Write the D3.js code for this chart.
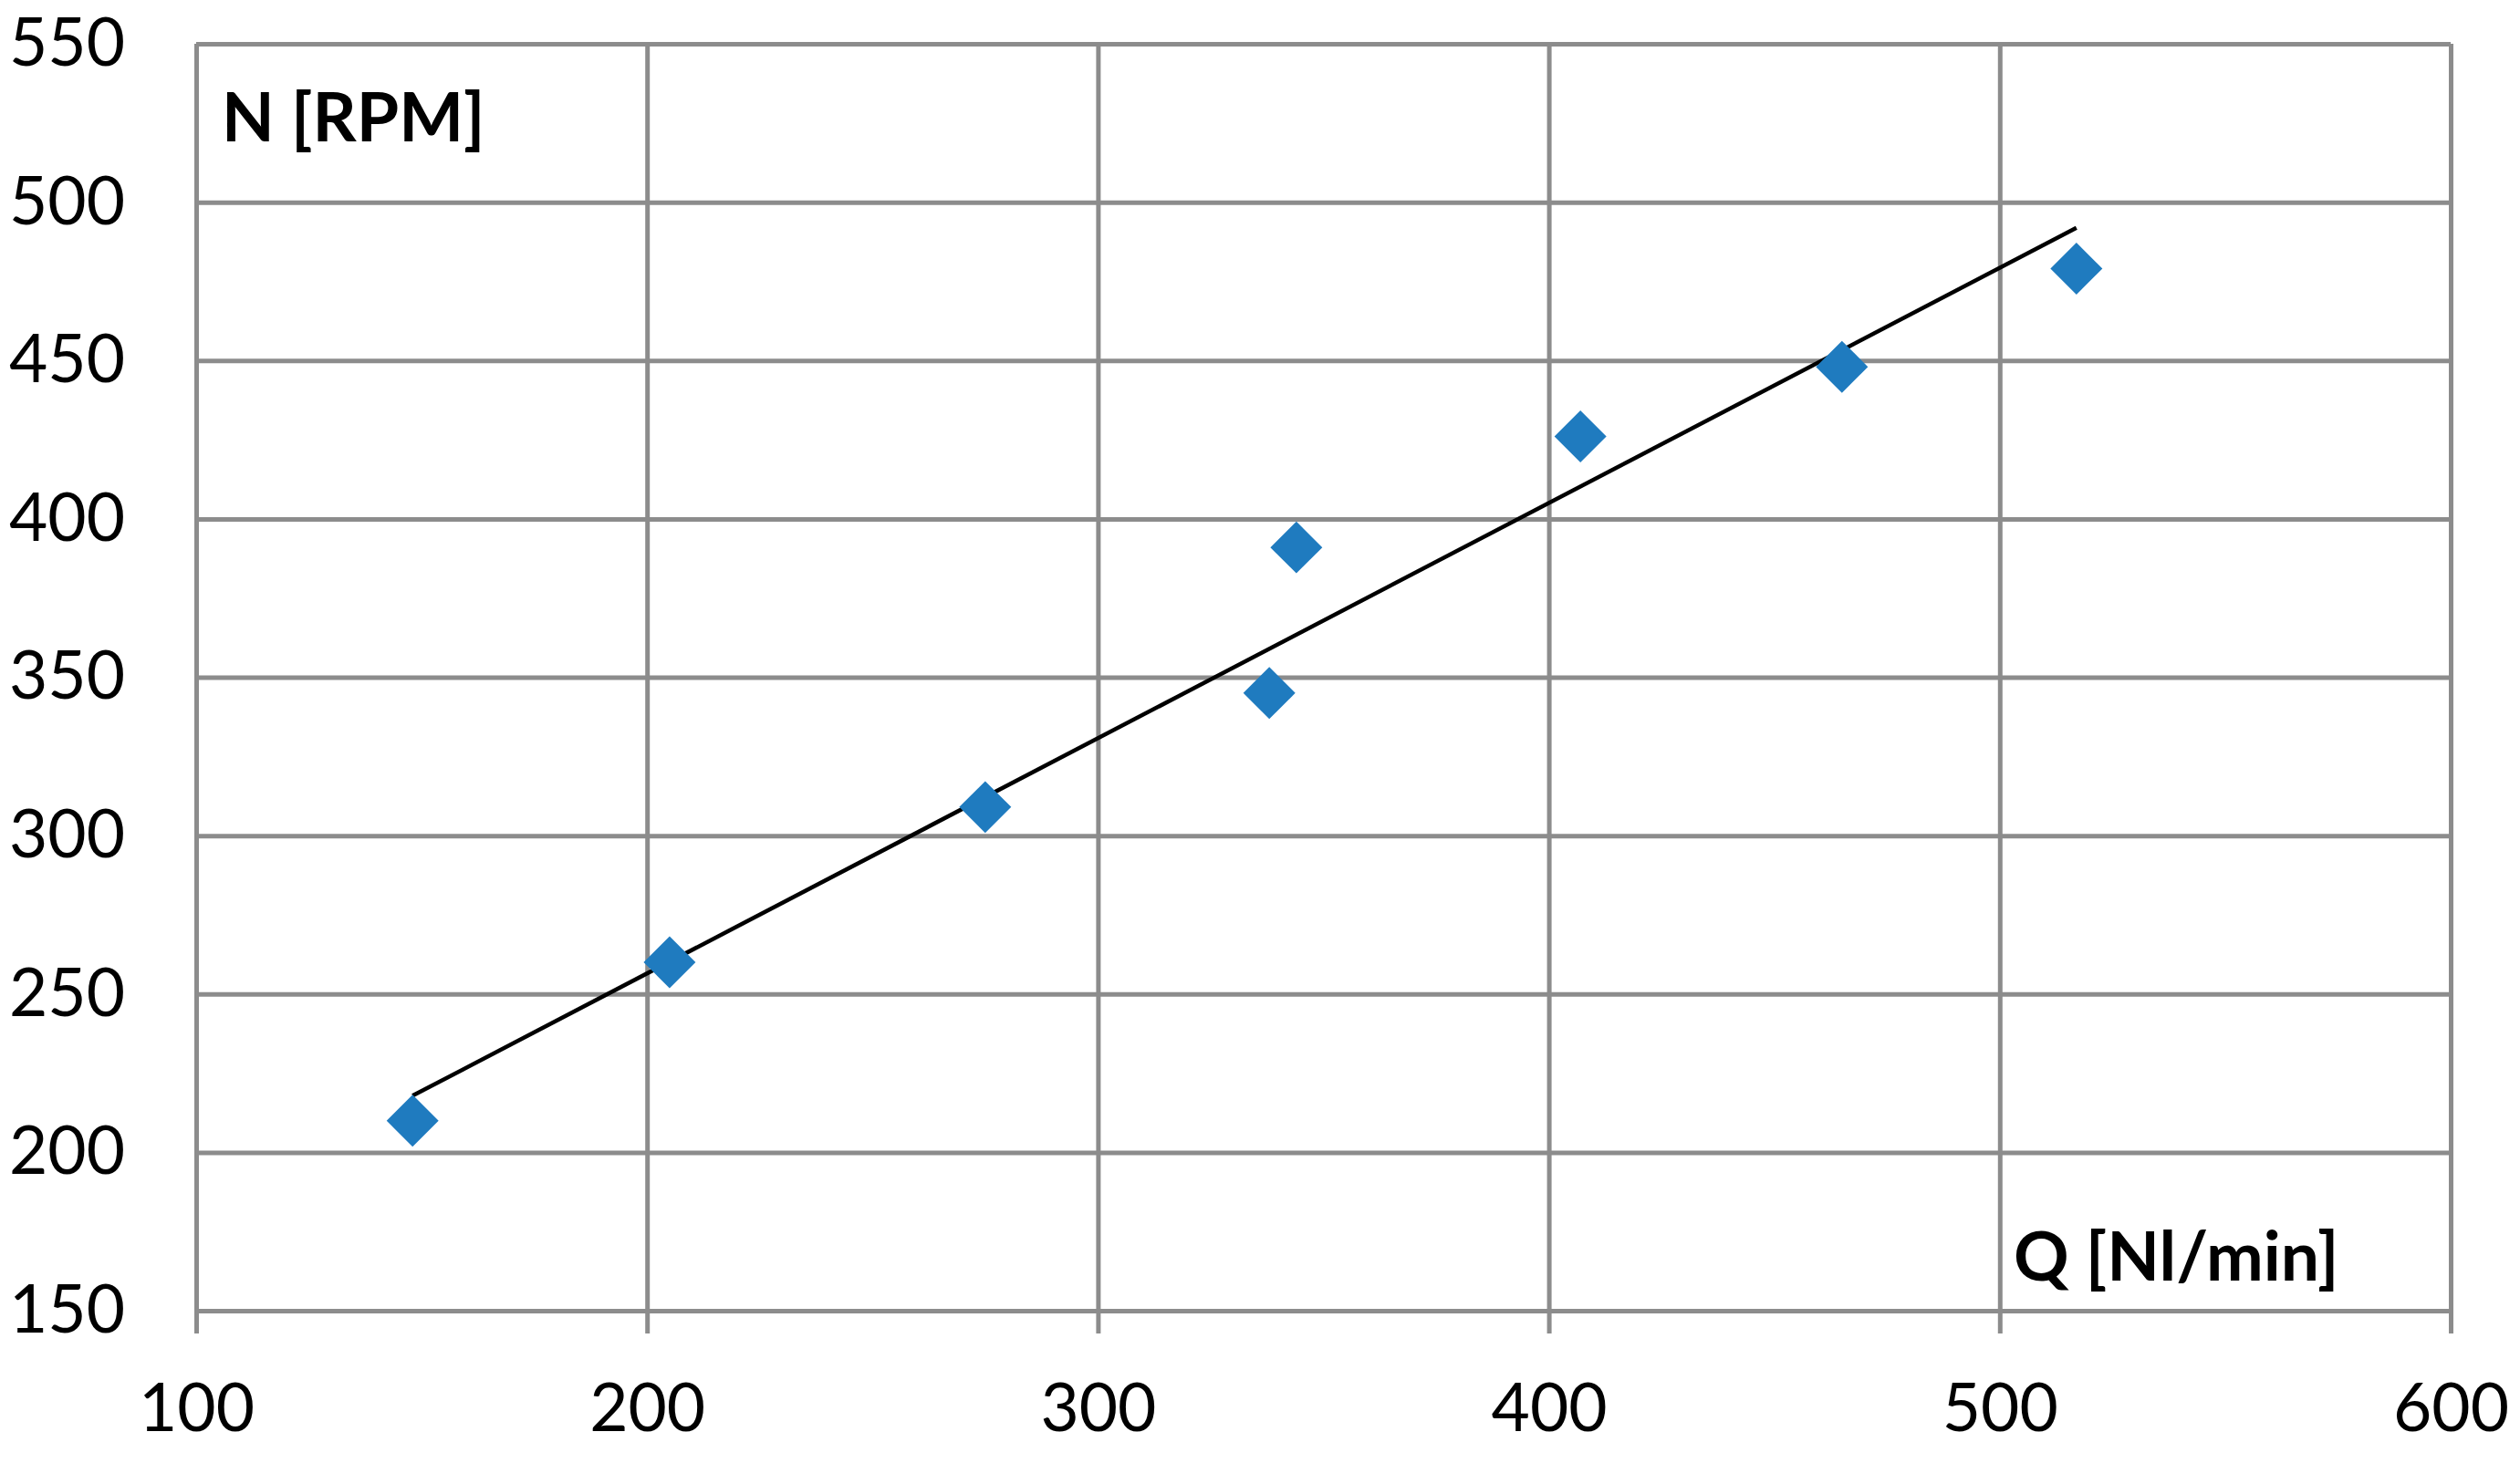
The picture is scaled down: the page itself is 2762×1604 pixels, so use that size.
<!DOCTYPE html>
<html>
<head>
<meta charset="utf-8">
<script src="https://cdn.jsdelivr.net/npm/d3@7"></script>
<style>
html,body{margin:0;padding:0;background:#fff;}
svg text{font-family:Lato, "Liberation Sans", sans-serif;fill:#000;}
</style>
</head>
<body>
<svg id="chart" width="2762" height="1604"></svg>
<script>
// Data
const flowQ = [148, 205, 275, 338, 344, 407, 465, 517];
const speedN = [210, 260, 309, 345, 391, 426, 448, 479];
const xTicks = [100, 200, 300, 400, 500, 600];
const yTicks = [150, 200, 250, 300, 350, 400, 450, 500, 550];
const xTitle = "Q [Nl/min]";
const yTitle = "N [RPM]";

const W = 2762, H = 1604;
const m = {left: 215, right: W - 2686, top: 48, bottom: H - 1437};
const svg = d3.select("#chart");

const x = d3.scaleLinear().domain([100, 600]).range([m.left, W - m.right]);
const y = d3.scaleLinear().domain([150, 550]).range([H - m.bottom, m.top]);

const gridColor = "#8c8c8c";
const gw = 5;

// vertical grid lines + bottom ticks
const xAxis = svg.append("g").attr("transform", `translate(0,${y(150)})`)
  .call(d3.axisBottom(x).tickValues(xTicks).tickSize(25).tickPadding(55).tickFormat(d3.format("d")));
xAxis.select(".domain").remove();
xAxis.selectAll(".tick line").attr("stroke", gridColor).attr("stroke-width", gw)
  .attr("y1", -(y(150) - y(550)));
xAxis.selectAll(".tick text").attr("font-size", 73).attr("font-family", "Lato").attr("fill", "#000");

// horizontal grid lines + left ticks
const yAxis = svg.append("g").attr("transform", `translate(${x(100)},0)`)
  .call(d3.axisLeft(y).tickValues(yTicks).tickSize(25).tickPadding(53).tickFormat(d3.format("d")));
yAxis.select(".domain").remove();
yAxis.selectAll(".tick line").attr("stroke", gridColor).attr("stroke-width", gw)
  .attr("x2", x(600) - x(100));
yAxis.selectAll(".tick text").attr("font-size", 73).attr("font-family", "Lato").attr("fill", "#000");

// linear trend line (least squares)
const n = flowQ.length;
const mx = d3.mean(flowQ), my = d3.mean(speedN);
let sxy = 0, sxx = 0;
for (let i = 0; i < n; i++) { sxy += (flowQ[i]-mx)*(speedN[i]-my); sxx += (flowQ[i]-mx)**2; }
const slope = sxy / sxx, icpt = my - slope * mx;
const [xmin, xmax] = d3.extent(flowQ);
svg.append("line")
  .attr("x1", x(xmin)).attr("y1", y(slope*xmin + icpt))
  .attr("x2", x(xmax)).attr("y2", y(slope*xmax + icpt))
  .attr("stroke", "#000").attr("stroke-width", 4.5);

// diamond markers
const sym = d3.symbol().type(d3.symbolDiamond2).size(2070);
svg.append("g").selectAll("path").data(flowQ.map((q, i) => [q, speedN[i]]))
  .join("path")
  .attr("d", sym)
  .attr("transform", d => `translate(${x(d[0])},${y(d[1])})`)
  .attr("fill", "#1f7bbf");

// axis titles
svg.append("text").attr("x", 243).attr("y", 155)
  .attr("font-size", 75).attr("font-weight", "bold").text(yTitle);
svg.append("text").attr("x", 2207).attr("y", 1404)
  .attr("font-size", 75).attr("font-weight", "bold").text(xTitle);
</script>
</body>
</html>
